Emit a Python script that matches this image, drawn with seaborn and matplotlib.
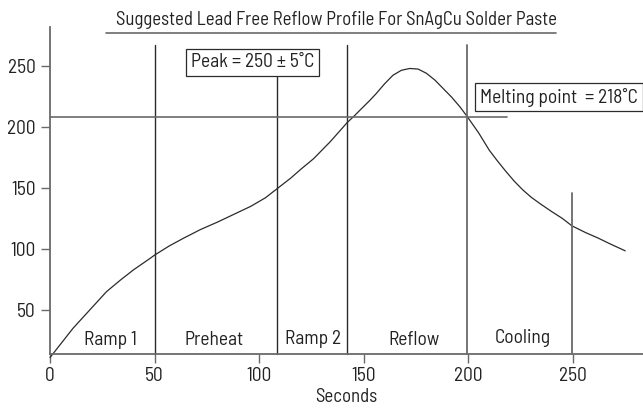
import pandas as pd
import matplotlib.pyplot as plt
from matplotlib.lines import Line2D
import seaborn as sns

sns.set_style("ticks")
plt.rcParams['font.family'] = ['Barlow Semi Condensed', 'DejaVu Sans']

# temperature curve
seconds = [0, 11, 19, 27, 34, 40, 48, 50, 57, 64, 72, 80, 88, 96, 103, 109, 115, 120,
           126, 134, 142, 146, 148, 153, 156, 160, 164, 168, 172, 176, 180, 184, 188,
           192, 196, 199.5, 205, 210, 214, 218, 222, 226, 230, 234, 240, 245, 249.5,
           256, 262, 268, 275]
temps = [11, 35, 50, 65, 75, 83, 92.5, 95, 102.5, 109, 116, 122, 128.5, 135, 142, 150,
         158, 165.5, 174, 188, 203.5, 210, 213.5, 222, 227.5, 235.5, 242.5, 246.5, 248,
         247.5, 244, 238.5, 231.5, 224.5, 216.5, 208.5, 195, 181, 172, 163.5, 155.5,
         148.5, 142.5, 137.5, 130.5, 125, 119, 113.5, 109, 104, 98.5]

phase_names = ["Ramp 1", "Preheat", "Ramp 2", "Reflow", "Cooling"]
phase_x = [28.7, 78.5, 125.7, 174, 226]
phase_y = [25, 25, 26, 25, 27]
phase_bounds = [50, 142, 199.5]   # full height lines
peak_x, peak_top = 108.7, 242
cool_x, cool_top = 249.5, 146
melt_y, melt_end = 208.5, 218.3
axis_y = 13.9

x_ticks = [0, 50, 100, 150, 200, 250]
y_ticks = [50, 100, 150, 200, 250]

df = pd.DataFrame({"Seconds": seconds, "Temp": temps})

fig = plt.figure(figsize=(6.43, 4.09), dpi=100)
ax = fig.add_axes([50 / 643, 0.1198, 593 / 643, 0.8142])
lc = "#2b2b2b"
gc = "#6a6a6a"
tc = "#222222"
fs = 14

sns.lineplot(data=df, x="Seconds", y="Temp", ax=ax, color=lc, lw=0.9, clip_on=False)

for xb in phase_bounds:
    ax.plot([xb, xb], [axis_y, 267], color=lc if xb < 150 else gc, lw=1.0 if xb < 150 else 1.3)
ax.plot([peak_x, peak_x], [axis_y, peak_top], color=lc, lw=1.0)
ax.plot([cool_x, cool_x], [axis_y, cool_top], color=gc, lw=1.3)
ax.plot([0, melt_end], [melt_y, melt_y], color=gc, lw=1.2)

for name, px, py in zip(phase_names, phase_x, phase_y):
    ax.text(px, py, name, ha="center", va="center", fontsize=fs, color=tc)

box = dict(boxstyle="square,pad=0.25", fc="white", ec=lc, lw=0.9)
ax.text(67.3, 253, "Peak = 250 \u00b1 5\u02daC", ha="left", va="center",
        fontsize=fs, color=tc, bbox=box)
ax.text(205.5, 224.5, "Melting point  = 218\u02daC", ha="left", va="center",
        fontsize=fs, color=tc, bbox=box, clip_on=False)

ax.set_xlim(0, 283.5)
ax.set_ylim(9, 282)
ax.set_xticks(x_ticks)
ax.set_yticks(y_ticks)
ax.tick_params(labelsize=fs, colors=tc, length=6.5, width=1.0)
ax.tick_params(axis="both", color=gc)
ax.tick_params(axis="x", pad=3)
ax.set_xlabel("Seconds", fontsize=13.5, color=tc, labelpad=2)
ax.set_ylabel("")
sns.despine(ax=ax)
ax.spines['bottom'].set_position(('data', axis_y))
ax.spines['left'].set_bounds(axis_y, 282)
for s in ['bottom', 'left']:
    ax.spines[s].set_color(gc)
    ax.spines[s].set_linewidth(1.3)

fig.text(336 / 643, 1 - 20 / 409, "Suggested Lead Free Reflow Profile For SnAgCu Solder Paste",
         ha="center", va="center", fontsize=13.5, color=tc)
fig.add_artist(Line2D([106 / 643, 556 / 643], [1 - 33 / 409, 1 - 33 / 409],
                      color=gc, lw=1.2))

fig.savefig("out.png", dpi=100)
